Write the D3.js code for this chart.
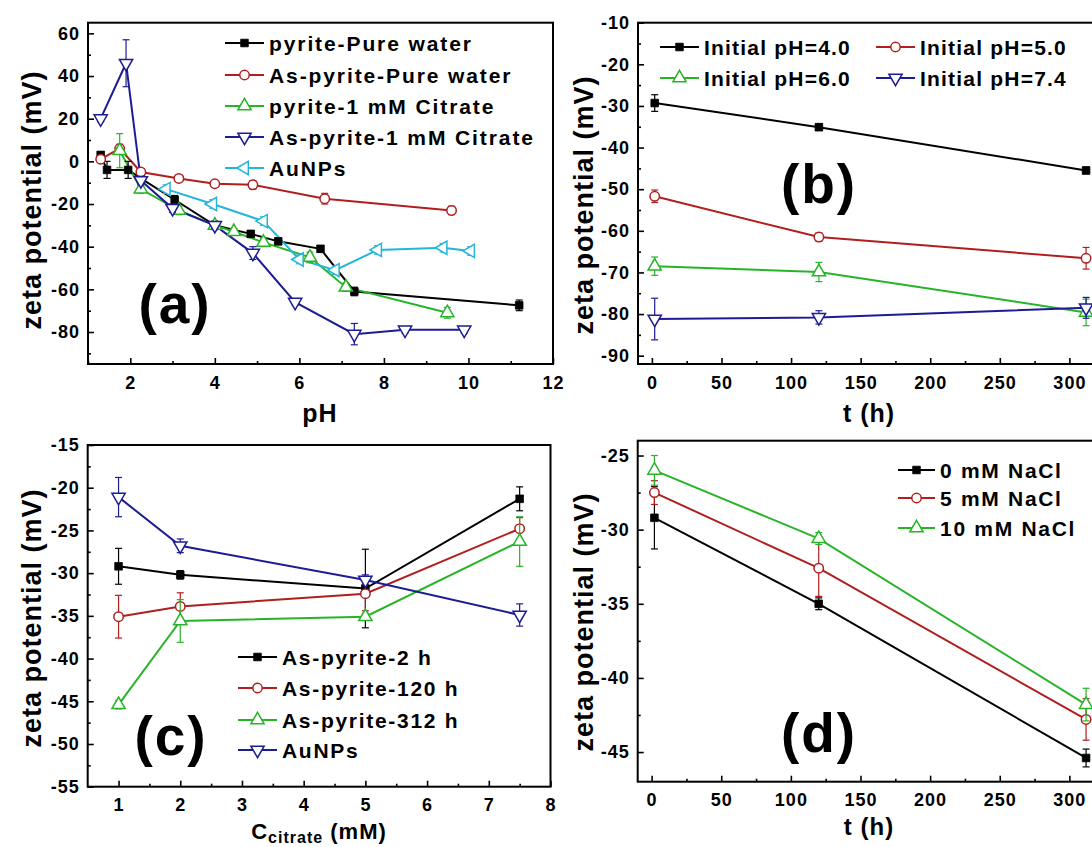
<!DOCTYPE html>
<html>
<head>
<meta charset="utf-8">
<script src="https://cdn.jsdelivr.net/npm/d3@7"></script>
<style>
body { margin: 0; background: #fff; }
svg { display: block; }
text { font-family: 'Liberation Sans', Arial, Helvetica, sans-serif; font-weight: bold; fill: #000; }
</style>
</head>
<body>
<script>
// ---------- panel (a): zeta potential vs pH ----------
var phPyriteWater   = [1.3, 1.45, 1.95, 2.25, 3.05, 4.0, 4.85, 5.5, 6.5, 7.3, 11.2];
var zetaPyriteWater = [3, -4, -4, -8, -18, -30, -34, -37.5, -41, -61, -67.5];
var errPyriteWater  = [1.5, 4, 4, 2, 2, 2, 1.5, 1.5, 1.5, 2, 2.5];

var phAsWater   = [1.3, 1.75, 2.25, 3.15, 4.0, 4.9, 6.6, 9.6];
var zetaAsWater = [1, 6, -5, -8, -10.5, -11, -17.5, -23];
var errAsWater  = [1.5, 2, 1.5, 1.5, 1.5, 2, 2.5, 2];

var phPyriteCit   = [1.75, 2.25, 3.15, 4.0, 4.45, 5.15, 6.25, 7.1, 9.5];
var zetaPyriteCit = [5, -13, -23, -30, -33, -38, -45, -59, -71];
var errPyriteCit  = [8, 2, 2, 1.5, 1.5, 2, 2.5, 2, 2.5];

var phAsCit   = [1.3, 1.9, 2.25, 3.0, 4.0, 4.9, 5.9, 7.3, 8.5, 9.9];
var zetaAsCit = [20, 46, -9, -22, -30, -43, -66, -81, -79, -79];
var errAsCit  = [1.5, 11, 2, 2, 1.5, 3, 1.5, 5, 1.5, 1.5];

var phAuNPs   = [2.85, 3.95, 5.15, 6.0, 6.85, 7.85, 9.4, 10.05];
var zetaAuNPs = [-13, -20, -28, -46, -51, -41.5, -40.5, -42];
var errAuNPs  = [2, 2, 2, 2, 2, 2, 2, 2];

// ---------- panel (b): zeta potential vs time, initial pH ----------
var tAging   = [2, 120, 312];
var zetaPH40 = [-29.3, -35.1, -45.5];  var errPH40 = [2, 0.8, 0.8];
var zetaPH50 = [-51.7, -61.5, -66.6];  var errPH50 = [1.5, 1, 2.6];
var zetaPH60 = [-68.5, -69.9, -79.6];  var errPH60 = [2.2, 2.3, 3.2];
var zetaPH74 = [-81.2, -80.8, -78.5];  var errPH74 = [5, 1.6, 2.5];

// ---------- panel (c): zeta potential vs citrate ----------
var cCitrate  = [1, 2, 5, 7.5];
var zeta2h    = [-29.2, -30.2, -31.8, -21.3]; var err2h   = [2.1, 0.5, 4.6, 1.4];
var zeta120h  = [-35.1, -33.9, -32.4, -24.8]; var err120h = [2.5, 1.6, 2, 1.3];
var zeta312h  = [-45.4, -35.6, -35.1, -26.3]; var err312h = [0.5, 2.5, 0.4, 2.9];
var zetaAuCit = [-21.1, -26.8, -30.8, -34.9]; var errAuCit = [2.3, 0.8, 0.6, 1.3];

// ---------- panel (d): zeta potential vs time, NaCl ----------
var tSalt      = [2, 120, 312];
var zetaNaCl0  = [-29.2, -35.0, -45.4]; var errNaCl0  = [2.1, 0.4, 0.6];
var zetaNaCl5  = [-27.5, -32.6, -42.8]; var errNaCl5  = [0.8, 1.9, 1.4];
var zetaNaCl10 = [-26.0, -30.6, -41.8]; var errNaCl10 = [1.0, 0.4, 1.1];

var BLACK = "#000000", RED = "#b01e1e", GREEN = "#27b427", NAVY = "#1c1c94", CYAN = "#22b6da";

var svg = d3.select("body").append("svg")
  .attr("width", 1092)
  .attr("height", 847);

function zip(xs, ys, es) {
  return xs.map(function (v, i) { return {x: v, y: ys[i], e: es[i]}; });
}

function markerPath(kind) {
  if (kind == "square") return d3.symbol().type(d3.symbolSquare).size(58)();
  if (kind == "circle") return d3.symbol().type(d3.symbolCircle).size(70)();
  return d3.symbol().type(d3.symbolTriangle).size(76)();
}
function markerRot(kind) {
  if (kind == "down") return 180;
  if (kind == "left") return -90;
  return 0;
}

function drawMarker(g, kind, color, cx, cy) {
  g.append("path")
    .attr("d", markerPath(kind))
    .attr("transform", "translate(" + cx + "," + cy + ") rotate(" + markerRot(kind) + ")")
    .attr("fill", kind == "square" ? color : "#fff")
    .attr("stroke", color)
    .attr("stroke-width", kind == "square" ? 0.8 : 1.5);
}

function panel(o) {
  var g = svg.append("g");
  var x = d3.scaleLinear().domain(o.xDom).range([o.left, o.right]);
  var y = d3.scaleLinear().domain(o.yDom).range([o.bottom, o.top]);

  // minor + major ticks, pointing inward
  g.append("g").attr("transform", "translate(0," + o.bottom + ")")
    .call(d3.axisBottom(x).tickValues(o.xMinor).tickSize(-3).tickFormat(""));
  g.append("g").attr("transform", "translate(" + o.left + ",0)")
    .call(d3.axisLeft(y).tickValues(o.yMinor).tickSize(-3).tickFormat(""));
  g.append("g").attr("transform", "translate(0," + o.bottom + ")")
    .call(d3.axisBottom(x).tickValues(o.xTicks).tickSize(-6).tickPadding(12).tickFormat(function (d) { return String(d); }));
  g.append("g").attr("transform", "translate(" + o.left + ",0)")
    .call(d3.axisLeft(y).tickValues(o.yTicks).tickSize(-6).tickPadding(8).tickFormat(function (d) { return String(d); }));
  g.selectAll(".domain").remove();
  g.selectAll(".tick line").attr("stroke", "#000").attr("stroke-width", 1.6);
  g.selectAll(".tick text")
    .attr("font-family", null)
    .style("font-size", "18px")
    .style("letter-spacing", "1px")
    .attr("fill", "#000");

  // frame
  g.append("rect")
    .attr("x", o.left).attr("y", o.top)
    .attr("width", o.right - o.left).attr("height", o.bottom - o.top)
    .attr("fill", "none").attr("stroke", "#000").attr("stroke-width", 2);

  var line = d3.line().x(function (d) { return x(d.x); }).y(function (d) { return y(d.y); });

  o.series.forEach(function (s) {
    g.append("path").datum(s.data)
      .attr("d", line).attr("fill", "none")
      .attr("stroke", s.color).attr("stroke-width", 2);
  });
  o.series.forEach(function (s) {
    var eb = g.append("g").attr("stroke", s.color).attr("stroke-width", 1.2);
    s.data.forEach(function (d) {
      var px = x(d.x), y1 = y(d.y + d.e), y2 = y(d.y - d.e);
      eb.append("line").attr("x1", px).attr("x2", px).attr("y1", y1).attr("y2", y2);
      eb.append("line").attr("x1", px - 3.5).attr("x2", px + 3.5).attr("y1", y1).attr("y2", y1);
      eb.append("line").attr("x1", px - 3.5).attr("x2", px + 3.5).attr("y1", y2).attr("y2", y2);
    });
    s.data.forEach(function (d) { drawMarker(g, s.marker, s.color, x(d.x), y(d.y)); });
  });

  // legend
  o.legend.forEach(function (l, i) {
    var s = o.series[i];
    g.append("line").attr("x1", l.x1).attr("x2", l.x2).attr("y1", l.y).attr("y2", l.y)
      .attr("stroke", s.color).attr("stroke-width", 2);
    drawMarker(g, s.marker, s.color, (l.x1 + l.x2) / 2, l.y);
    g.append("text").attr("x", l.x2 + 5).attr("y", l.y).attr("dy", "0.36em")
      .style("font-size", "21px").style("letter-spacing", o.legendSpacing + "px")
      .text(s.name);
  });

  // panel letter
  g.append("text").attr("x", o.letter[0]).attr("y", o.letter[1])
    .attr("text-anchor", "middle").style("font-size", "55px").style("letter-spacing", "2px")
    .text(o.letter[2]);

  // y title
  g.append("text")
    .attr("transform", "translate(" + o.yTitle[0] + "," + o.yTitle[1] + ") rotate(-90)")
    .attr("text-anchor", "middle").style("font-size", "27px").style("letter-spacing", "1px")
    .text("zeta potential (mV)");

  // x title
  var xt = g.append("text").attr("x", o.xTitle[0]).attr("y", o.xTitle[1])
    .attr("text-anchor", "middle").style("font-size", o.xTitleSize + "px").style("letter-spacing", "1px");
  if (o.xSub) {
    xt.append("tspan").text("C");
    xt.append("tspan").attr("dy", 4).style("font-size", "16px").text(o.xSub);
    xt.append("tspan").attr("dy", -4).text(" (mM)");
  } else {
    xt.text(o.xTitleText);
  }
}

function range(a, b, step) { return d3.range(a, b + step / 2, step); }

panel({
  left: 88, right: 553, top: 22.7, bottom: 364,
  xDom: [1, 12], yDom: [-95, 65],
  xTicks: range(2, 12, 2), xMinor: range(1, 11, 2),
  yTicks: range(-80, 60, 20), yMinor: range(-90, 50, 20),
  series: [
    {name: "pyrite-Pure water", color: BLACK, marker: "square", data: zip(phPyriteWater, zetaPyriteWater, errPyriteWater)},
    {name: "As-pyrite-Pure water", color: RED, marker: "circle", data: zip(phAsWater, zetaAsWater, errAsWater)},
    {name: "pyrite-1 mM Citrate", color: GREEN, marker: "up", data: zip(phPyriteCit, zetaPyriteCit, errPyriteCit)},
    {name: "As-pyrite-1 mM Citrate", color: NAVY, marker: "down", data: zip(phAsCit, zetaAsCit, errAsCit)},
    {name: "AuNPs", color: CYAN, marker: "left", data: zip(phAuNPs, zetaAuNPs, errAuNPs)}
  ],
  legend: [
    {x1: 225, x2: 264, y: 43}, {x1: 225, x2: 264, y: 75}, {x1: 225, x2: 264, y: 106},
    {x1: 225, x2: 264, y: 137}, {x1: 225, x2: 264, y: 168}
  ],
  legendSpacing: 1.9,
  letter: [175, 323, "(a)"],
  yTitle: [41, 200],
  xTitle: [320, 422], xTitleText: "pH", xTitleSize: 25
});

panel({
  left: 638, right: 1100, top: 22.7, bottom: 364,
  xDom: [-10, 322], yDom: [-92, -10],
  xTicks: range(0, 300, 50), xMinor: range(25, 325, 50),
  yTicks: range(-90, -10, 10), yMinor: range(-85, -15, 10),
  series: [
    {name: "Initial pH=4.0", color: BLACK, marker: "square", data: zip(tAging, zetaPH40, errPH40)},
    {name: "Initial pH=5.0", color: RED, marker: "circle", data: zip(tAging, zetaPH50, errPH50)},
    {name: "Initial pH=6.0", color: GREEN, marker: "up", data: zip(tAging, zetaPH60, errPH60)},
    {name: "Initial pH=7.4", color: NAVY, marker: "down", data: zip(tAging, zetaPH74, errPH74)}
  ],
  legend: [
    {x1: 660, x2: 699, y: 47}, {x1: 876, x2: 915, y: 47},
    {x1: 660, x2: 699, y: 78}, {x1: 876, x2: 915, y: 78}
  ],
  legendSpacing: 1.2,
  letter: [819, 203, "(b)"],
  yTitle: [593, 205],
  xTitle: [869, 422], xTitleText: "t (h)", xTitleSize: 25
});

panel({
  left: 87.7, right: 550.5, top: 445, bottom: 786.7,
  xDom: [0.5, 8], yDom: [-55, -15],
  xTicks: range(1, 8, 1), xMinor: range(1.5, 7.5, 1),
  yTicks: range(-55, -15, 5), yMinor: range(-52.5, -17.5, 5),
  series: [
    {name: "As-pyrite-2 h", color: BLACK, marker: "square", data: zip(cCitrate, zeta2h, err2h)},
    {name: "As-pyrite-120 h", color: RED, marker: "circle", data: zip(cCitrate, zeta120h, err120h)},
    {name: "As-pyrite-312 h", color: GREEN, marker: "up", data: zip(cCitrate, zeta312h, err312h)},
    {name: "AuNPs", color: NAVY, marker: "down", data: zip(cCitrate, zetaAuCit, errAuCit)}
  ],
  legend: [
    {x1: 238, x2: 277, y: 657}, {x1: 238, x2: 277, y: 688},
    {x1: 238, x2: 277, y: 720}, {x1: 238, x2: 277, y: 750}
  ],
  legendSpacing: 1.7,
  letter: [171, 755, "(c)"],
  yTitle: [41, 618],
  xTitle: [319, 839], xSub: "citrate", xTitleSize: 22
});

panel({
  left: 637.7, right: 1100, top: 440.7, bottom: 781.7,
  xDom: [-10, 322], yDom: [-47, -24],
  xTicks: range(0, 300, 50), xMinor: range(25, 325, 50),
  yTicks: range(-45, -25, 5), yMinor: range(-42.5, -27.5, 5),
  series: [
    {name: "0 mM NaCl", color: BLACK, marker: "square", data: zip(tSalt, zetaNaCl0, errNaCl0)},
    {name: "5 mM NaCl", color: RED, marker: "circle", data: zip(tSalt, zetaNaCl5, errNaCl5)},
    {name: "10 mM NaCl", color: GREEN, marker: "up", data: zip(tSalt, zetaNaCl10, errNaCl10)}
  ],
  legend: [
    {x1: 898, x2: 935, y: 470}, {x1: 898, x2: 935, y: 498}, {x1: 898, x2: 935, y: 528}
  ],
  legendSpacing: 1.7,
  letter: [819, 752, "(d)"],
  yTitle: [593, 622],
  xTitle: [869, 835], xTitleText: "t (h)", xTitleSize: 24
});
</script>
</body>
</html>
